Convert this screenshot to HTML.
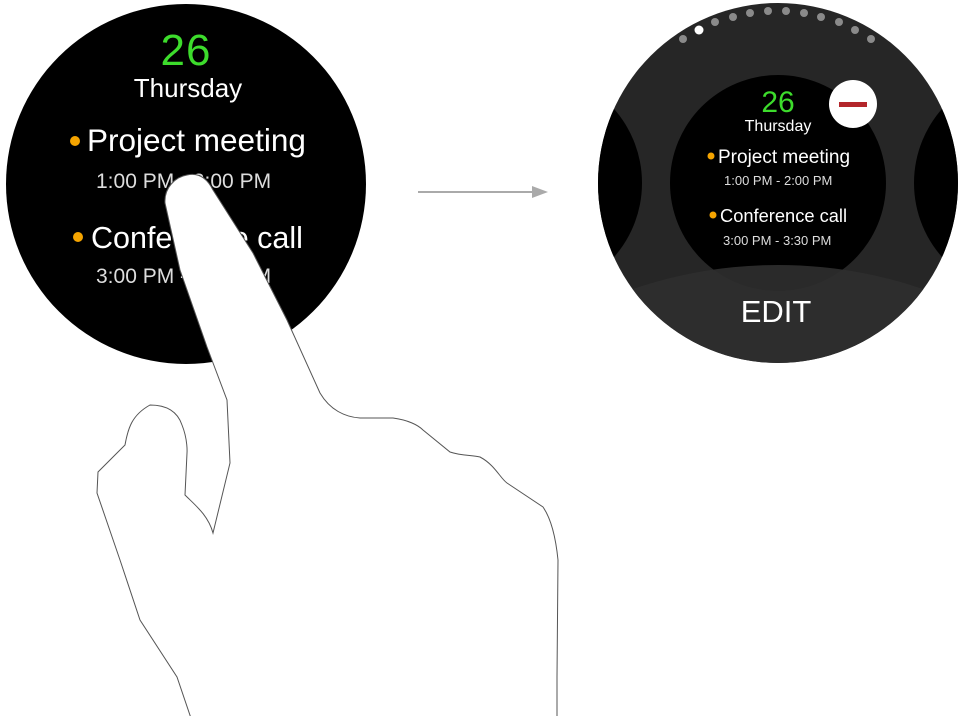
<!DOCTYPE html>
<html><head><meta charset="utf-8"><style>
html,body{margin:0;padding:0;background:#fff;width:961px;height:716px;overflow:hidden}
svg{display:block}
text{font-family:"Liberation Sans",sans-serif}
</style></head><body>
<svg width="961" height="716" viewBox="0 0 961 716" style="overflow:hidden">
<defs>
<clipPath id="rc"><circle cx="778" cy="183" r="180"/></clipPath>
</defs>
<!-- left watch -->
<circle cx="186" cy="184" r="180" fill="#000"/>
<text x="186" y="65" font-size="44" fill="#3ddc2c" text-anchor="middle" font-weight="100" style="letter-spacing:1px">26</text>
<text x="188" y="97" font-size="26" fill="#fff" text-anchor="middle">Thursday</text>
<circle cx="75" cy="141" r="5" fill="#f5a400"/>
<text x="87" y="151" font-size="31.5" fill="#fff">Project meeting</text>
<text x="96" y="188" font-size="21" fill="#ddd">1:00 PM - 2:00 PM</text>
<circle cx="78" cy="237" r="5" fill="#f5a400"/>
<text x="91" y="248" font-size="30.5" fill="#fff">Conference call</text>
<text x="96" y="283" font-size="21" fill="#ddd">3:00 PM - 3:30 PM</text>
<!-- hand -->
<path d="M187,175 C200,172 208,180 213,190 L253,253 L287,320 L320,393 C330,410 345,417 360,418 L393,418 C408,420 418,425 423,430 L450,452 C462,456 472,455 480,457 C495,465 500,478 507,483 L543,507 C552,520 556,540 558,560 L557,677 L557,730 L195,730 L177,677 L140,620 L120,560 L97,493 L98,472 L125,445 C128,428 132,415 150,405 C165,405 177,410 182,425 C188,440 187,453 187,453 L185,495 C195,505 208,515 213,533 L230,463 L227,400 L207,347 L180,270 L165,203 C164,188 175,177 187,175 Z" fill="#fff" stroke="#555" stroke-width="1"/>
<!-- arrow -->
<line x1="418" y1="192" x2="535" y2="192" stroke="#aaa" stroke-width="2"/>
<polygon points="548,192 532,186 532,198" fill="#aaa"/>
<!-- right watch -->
<circle cx="778" cy="183" r="180" fill="#262626"/>
<g clip-path="url(#rc)">
<circle cx="530" cy="183" r="112" fill="#000"/>
<circle cx="1026" cy="183" r="112" fill="#000"/>
<circle cx="778" cy="183" r="108" fill="#000"/>
<circle cx="778" cy="715" r="450" fill="#2f2f2f" fill-opacity="0.9"/>
</g>
<g fill="#8a8a8a">
<circle cx="683" cy="39" r="4"/><circle cx="715" cy="22" r="4"/><circle cx="733" cy="17" r="4"/><circle cx="750" cy="13" r="4"/><circle cx="768" cy="11" r="4"/><circle cx="786" cy="11" r="4"/><circle cx="804" cy="13" r="4"/><circle cx="821" cy="17" r="4"/><circle cx="839" cy="22" r="4"/><circle cx="855" cy="30" r="4"/><circle cx="871" cy="39" r="4"/>
</g>
<circle cx="699" cy="30" r="4.5" fill="#fff"/>
<text x="778" y="112" font-size="30" fill="#3ddc2c" text-anchor="middle" font-weight="100">26</text>
<text x="778" y="131" font-size="16" fill="#fff" text-anchor="middle">Thursday</text>
<circle cx="711" cy="156" r="3.5" fill="#f5a400"/>
<text x="718" y="163" font-size="19" fill="#fff">Project meeting</text>
<text x="724" y="185" font-size="13" fill="#ddd">1:00 PM - 2:00 PM</text>
<circle cx="713" cy="215" r="3.5" fill="#f5a400"/>
<text x="720" y="222" font-size="18.3" fill="#fff">Conference call</text>
<text x="723" y="245" font-size="13" fill="#ddd">3:00 PM - 3:30 PM</text>
<text x="776" y="322" font-size="31" fill="#fff" text-anchor="middle">EDIT</text>
<circle cx="853" cy="104" r="24" fill="#fff"/>
<rect x="839" y="102" width="28" height="5" fill="#b3262b"/>
</svg>
</body></html>
